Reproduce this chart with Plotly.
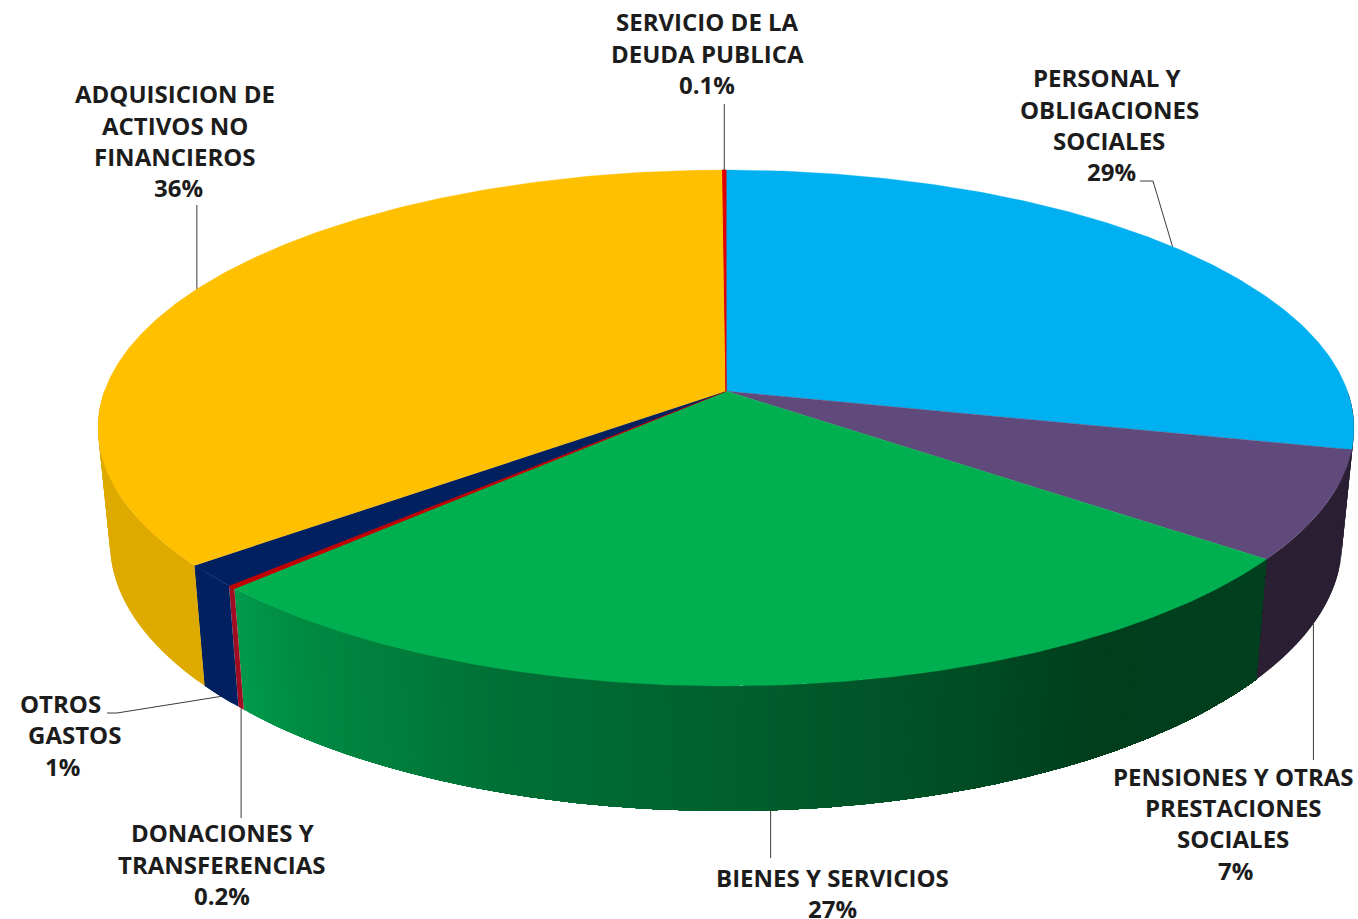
import numpy as np
import plotly.graph_objects as go

# ---- data ----
categories = ["PERSONAL Y OBLIGACIONES SOCIALES", "PENSIONES Y OTRAS PRESTACIONES SOCIALES",
              "BIENES Y SERVICIOS", "DONACIONES Y TRANSFERENCIAS", "OTROS GASTOS",
              "ADQUISICION DE ACTIVOS NO FINANCIEROS", "SERVICIO DE LA DEUDA PUBLICA"]
values = [28.6, 6.8, 27.2, 0.2, 1.4, 35.7, 0.1]
pct_labels = ["29%", "7%", "27%", "0.2%", "1%", "36%", "0.1%"]
top_colors = ["#00B0F0", "#604A7B", "#00B050", "#C00000", "#002060", "#FFC000", "#E00000"]
wall_colors = ["#2A1F33", "#2A1F33", None, "#A00C20", "#002060", "#DEAA00", "#A00C20"]
# green wall shading: screen-x stops and colours
green_x = [230, 300, 500, 700, 850, 970, 1100, 1270]
green_rgb = [(0, 155, 76), (0, 138, 66), (0, 112, 53), (0, 98, 47),
             (0, 86, 40), (0, 76, 36), (0, 62, 28), (0, 64, 30)]

# label text: (lines, per-line centre x, per-line centre y)
label_lines = [
    (["PERSONAL Y", "OBLIGACIONES", "SOCIALES"], [1107, 1109, 1109, 1111], [77, 109, 140, 171]),
    (["PENSIONES Y OTRAS", "PRESTACIONES", "SOCIALES"], [1233, 1233, 1233, 1235], [776, 807, 838, 870]),
    (["BIENES Y SERVICIOS"], [832, 832], [877, 908]),
    (["DONACIONES Y", "TRANSFERENCIAS"], [222, 221, 222], [832, 864, 895]),
    (["OTROS", "GASTOS"], [60, 74, 62], [703, 734, 766]),
    (["ADQUISICION DE", "ACTIVOS NO", "FINANCIEROS"], [175, 175, 175, 178], [93, 125, 156, 187]),
    (["SERVICIO DE LA", "DEUDA PUBLICA"], [707, 707, 707], [21, 53, 84]),
]
# leader line: which rim it starts from, then elbow points towards the label
leader_rim = ["top", "bottom", "bottom", "bottom", "bottom", "top", "top"]
leader_path = [[(1153, 181), (1140, 181)], [(None, 760)], [(None, 858)], [(None, 818)],
               [(117, 713), (107, 713)], [(None, 205)], [(None, 104)]]

# ---- projection of the disc ----
CX = 726
TOP = dict(cy=428, rx=628, ry=258)
BOT = dict(cy=543, rx=616, ry=268)
C = 0.143
S = np.sqrt(1 - C ** 2)
FRONT = (90, 270)  # only this arc of the outer wall can be seen


def project(theta_deg, rim):
    t = np.radians(theta_deg)
    x, y = np.sin(t), np.cos(t)
    d = 1 + C * y
    return CX + rim["rx"] * x * S / d, rim["cy"] - rim["ry"] * (y + C) / d


def green_color(x):
    return "rgb(%d,%d,%d)" % tuple(
        int(round(np.interp(x, green_x, [c[i] for c in green_rgb]))) for i in range(3))


fig = go.Figure()


def poly(xs, ys, color, lw=0.0):
    fig.add_trace(go.Scatter(x=list(xs), y=list(ys), mode="lines", fill="toself", fillcolor=color,
                             line=dict(color=color, width=lw), hoverinfo="skip", showlegend=False))


edges = np.concatenate([[0], np.cumsum(values)]) / sum(values) * 360

# walls
for i in range(len(values)):
    a, b = max(edges[i], FRONT[0]), min(edges[i + 1], FRONT[1])
    if a >= b:
        continue
    if wall_colors[i] is not None:
        # solid wall: overlapping quads, so the silhouette is filled and no seams show
        th = np.linspace(a, b, max(2, int(b - a) + 2))
        for k in range(len(th) - 1):
            seg = th[[k, min(k + 2, len(th) - 1)]]
            tx, ty = project(seg, TOP)
            bx, by = project(seg[::-1], BOT)
            poly(np.r_[tx, bx], np.r_[ty, by], wall_colors[i])
    else:
        # shaded wall: paint ever shorter arcs so no seams show between the bands
        th = np.linspace(a, b, int((b - a) * 1.5) + 2)
        for k in range(len(th) - 1, 0, -1):
            seg = np.linspace(a, th[k], k + 1)
            tx, ty = project(seg, TOP)
            bx, by = project(seg[::-1], BOT)
            tk, _ = project(th[k - 1:k + 1], TOP)
            poly(np.r_[tx, bx], np.r_[ty, by], green_color(tk.mean()))

# top faces
apex_y = TOP["cy"] - TOP["ry"] * C
for i in range(len(values)):
    a, b = edges[i], edges[i + 1]
    th = np.linspace(a, b, max(3, int((b - a) * 2)))
    tx, ty = project(th, TOP)
    fig.add_trace(go.Scatter(x=np.r_[CX, tx, CX], y=np.r_[apex_y, ty, apex_y], mode="lines",
                             fill="toself", fillcolor=top_colors[i],
                             line=dict(color=top_colors[i], width=1 if values[i] < 1 else 0.3),
                             hoverinfo="skip", showlegend=False))

# leaders
for i in range(len(values)):
    mid = (edges[i] + edges[i + 1]) / 2
    sx, sy = project(mid, TOP if leader_rim[i] == "top" else BOT)
    xs, ys = [float(sx)], [float(sy)]
    for px, py in leader_path[i]:
        xs.append(xs[0] if px is None else px)
        ys.append(py)
    fig.add_trace(go.Scatter(x=xs, y=ys, mode="lines", line=dict(color="#3a3a3a", width=1),
                             hoverinfo="skip", showlegend=False))

# labels
annotations = []
for (lines, lx, ly), pct in zip(label_lines, pct_labels):
    for text, x, y in zip(lines + [pct], lx, ly):
        annotations.append(dict(x=x, y=y, xref="x", yref="y", text="<b>%s</b>" % text, showarrow=False,
                                xanchor="center", yanchor="middle",
                                font=dict(family="Open Sans", size=24, color="#1c1c1c")))

fig.update_layout(
    width=1358, height=919, margin=dict(l=0, r=0, t=0, b=0), autosize=False,
    paper_bgcolor="white", plot_bgcolor="white", showlegend=False, annotations=annotations,
    xaxis=dict(range=[0, 1358], visible=False, fixedrange=True),
    yaxis=dict(range=[919, 0], visible=False, fixedrange=True),
)
fig.write_html("out.html", config={"displayModeBar": False},
               post_script="document.body.style.margin='0';document.body.style.overflow='hidden';")
